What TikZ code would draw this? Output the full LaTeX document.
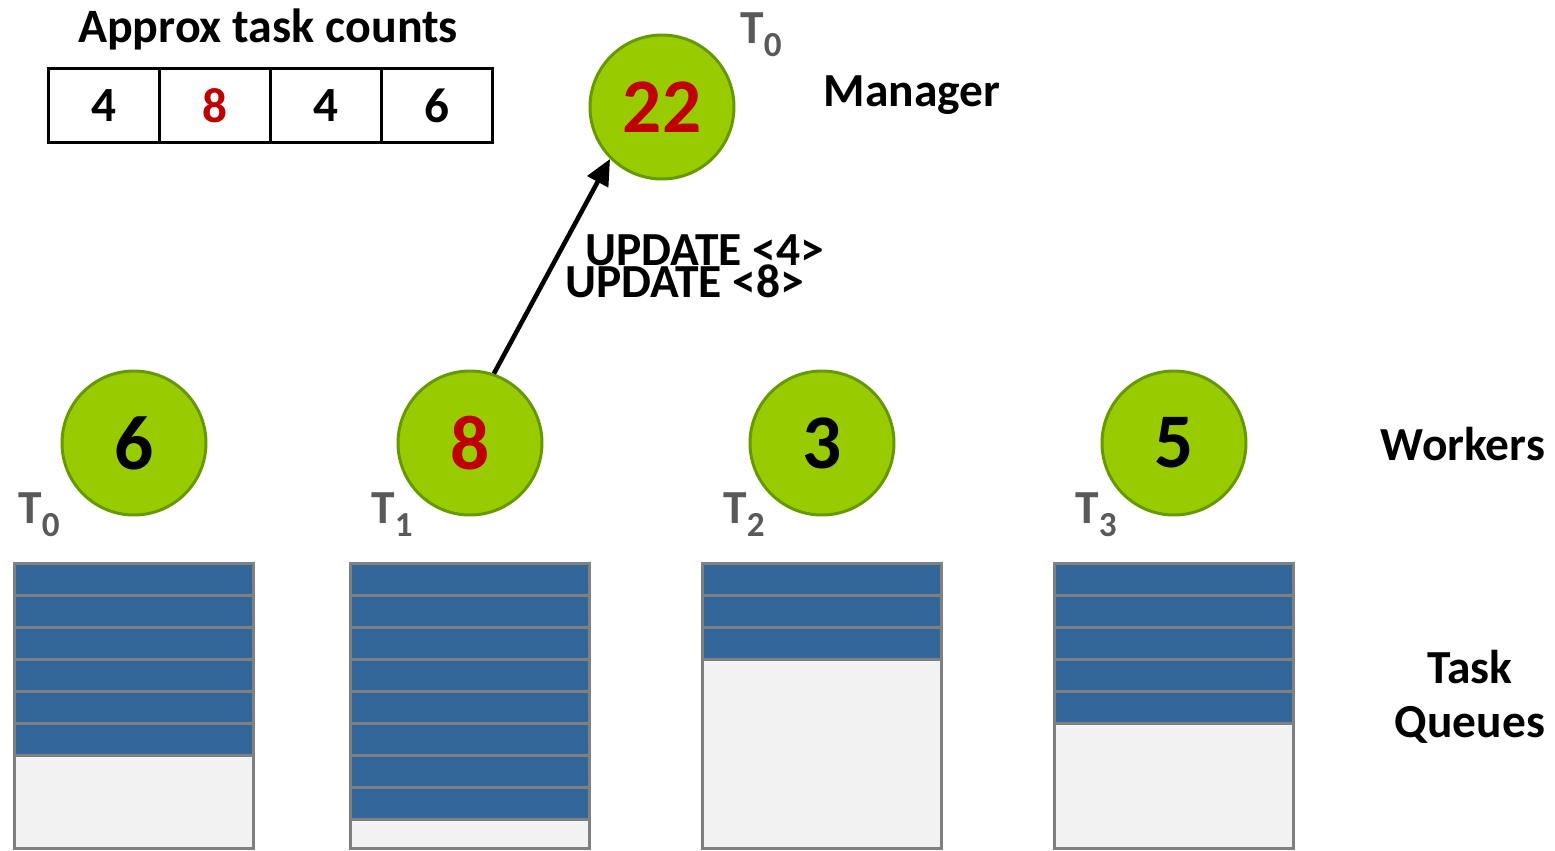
\documentclass[tikz,border=0pt]{standalone}
\usepackage{fontspec}
\setmainfont{Carlito}
\usetikzlibrary{arrows.meta, positioning}
\definecolor{wgreen}{HTML}{99CC00}
\definecolor{wgreenline}{HTML}{669900}
\definecolor{qblue}{HTML}{336699}
\definecolor{qgray}{HTML}{808080}
\definecolor{qempty}{HTML}{F2F2F2}
\definecolor{hotred}{HTML}{C00000}
\definecolor{tgray}{HTML}{595959}
\newcommand{\tid}[1]{T\raisebox{-7.4pt}{\fontsize{20}{20}\selectfont #1}}

\begin{document}
\begin{tikzpicture}[x=0.02cm, y=-0.02cm,
  proc/.style={circle, fill=wgreen, draw=wgreenline, line width=1.7pt,
    minimum size=2.88cm, inner sep=0pt, font=\bfseries\fontsize{44}{44}\selectfont},
  cnt/.style={draw, line width=1.7pt, minimum width=2.22cm, minimum height=1.48cm,
    outer sep=0pt, font=\bfseries\fontsize{28}{28}\selectfont},
  lbl/.style={font=\bfseries\fontsize{27}{27}\selectfont, inner sep=0pt},
  tlbl/.style={lbl, text=tgray, anchor=base west},
  task/.style={fill=qblue, draw=qgray, line width=1.7pt},
  ]
\useasboundingbox (0,0) rectangle (1555,850);

% approximate counts kept by the manager
\node (title) [lbl, anchor=base, font=\bfseries\fontsize{27.3}{27.3}\selectfont] at (268,42) {Approx task counts};
\foreach \i/\x/\v/\c in {0/104/4/black, 1/215/8/hotred, 2/326/4/black, 3/437/6/black}
  \node (c\i) [cnt, text=\c] at (\x,105.5) {\v};

% manager
\node (mgr) [proc, text=hotred] at (662,107) {22};
\node (mgrT) [tlbl] at (740,43) {\tid{0}};
\node (mgrL) [lbl, anchor=base] at (912,106) {Manager};

% workers and their queues
\foreach \i/\cx/\n/\c/\tx in {0/134/6/black/18, 1/470/8/hotred/371, 2/822/3/black/723, 3/1174/5/black/1075} {
  \node (w\i) [proc, text=\c] at (\cx,443) {\n};
  \node (t\i) [tlbl] at (\tx,523) {\tid{\i}};
  \draw[qgray, fill=qempty, line width=1.7pt] (\cx-119.5,563.5) rectangle (\cx+119.5,848);
  \foreach \r in {1,...,\n}
    \draw[task] (\cx-119.5,563.5+32*\r-32) rectangle (\cx+119.5,563.5+32*\r);
}

\node (wL) [lbl, anchor=base] at (1463,460) {Workers};
\node (qL1) [lbl, anchor=base] at (1470,683) {Task};
\node (qL2) [lbl, anchor=base] at (1470,737) {Queues};

% update message
\draw[-{Triangle[length=0.52cm,width=0.46cm]}, line width=2.6pt] (w1.71) -- (mgr.225);
\node (upd4) [lbl, anchor=base west] at (585,265) {UPDATE <4>};
\node (upd8) [lbl, anchor=base west] at (565,297) {UPDATE <8>};
\end{tikzpicture}
\end{document}
